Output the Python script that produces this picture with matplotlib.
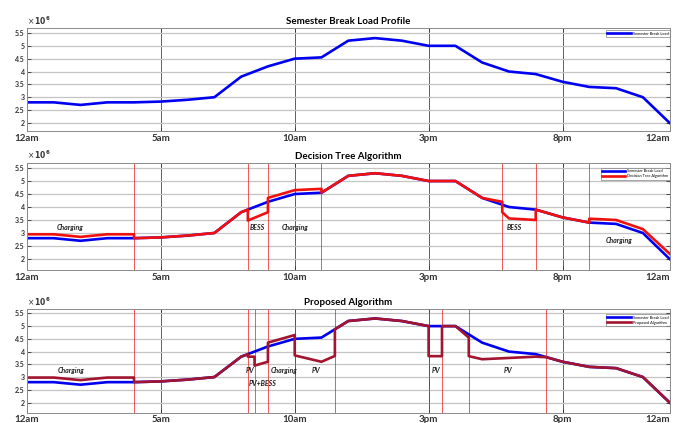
import matplotlib
matplotlib.use('Agg')
import matplotlib.pyplot as plt

plt.rcParams['font.family'] = ['Lato', 'DejaVu Sans']

# hourly load for the semester break (x 1e6)
hours = list(range(25))
load = [2.8, 2.8, 2.7, 2.8, 2.8, 2.83, 2.9, 3.0, 3.8, 4.2, 4.5, 4.55, 5.2,
        5.3, 5.2, 5.0, 5.0, 4.35, 4.0, 3.9, 3.6, 3.4, 3.35, 3.0, 2.0]

# decision tree schedule (repeated hours are vertical steps)
dt_hours = [0, 1, 2, 3, 4, 4, 5, 6, 7, 8, 8.25, 8.25, 9, 9, 10, 11, 11, 12,
            13, 14, 15, 16, 17, 17.75, 17.75, 18, 19, 19, 20, 21, 21, 22, 23, 24]
dt_load = [2.95, 2.95, 2.85, 2.95, 2.95, 2.8, 2.83, 2.9, 3.0, 3.8, 3.9, 3.48,
           3.8, 4.35, 4.65, 4.7, 4.55, 5.2, 5.3, 5.2, 5.0, 5.0, 4.35, 4.2, 3.8,
           3.56, 3.5, 3.9, 3.6, 3.4, 3.55, 3.5, 3.15, 2.2]
dt_bounds = [4, 8.25, 9, 11, 17.75, 19, 21]
dt_end = [2.2, 2.8]
dt_labels = [('Charging', 1.6, 3.2), ('BESS', 8.6, 3.2), ('Charging', 10.0, 3.2),
             ('BESS', 18.2, 3.2), ('Charging', 22.1, 2.7)]

# proposed algorithm schedule
pa_hours = [0, 1, 2, 3, 4, 4, 5, 6, 7, 8, 8.25, 8.25, 8.5, 8.5, 9, 9, 10, 10,
            11, 11.5, 11.5, 12, 13, 14, 15, 15, 15.5, 15.5, 16, 16.5, 16.5, 17,
            18, 19, 19.4, 20, 21, 22, 23, 24]
pa_load = [2.98, 2.98, 2.88, 2.98, 2.98, 2.8, 2.83, 2.9, 3.0, 3.8, 3.9, 3.8,
           3.8, 3.45, 3.6, 4.35, 4.65, 3.85, 3.6, 3.83, 4.875, 5.2, 5.3, 5.2,
           5.0, 3.82, 3.82, 5.0, 5.0, 4.55, 3.82, 3.7, 3.75, 3.8, 3.78, 3.6,
           3.4, 3.35, 3.0, 2.0]
pa_bounds = [4, 8.25, 8.5, 9, 10, 11.5, 15, 15.5, 16.5, 19.4]
pa_end = [2.13, 2.84]
pa_labels = [('Charging', 1.65, 3.26), ('PV', 8.33, 3.26), ('PV+BESS', 8.8, 2.74),
             ('Charging', 9.6, 3.26), ('PV', 10.8, 3.26), ('PV', 15.26, 3.26),
             ('PV', 17.95, 3.26)]

tick_hours = [0, 5, 10, 15, 20, 24]
tick_names = ['12am', '5am', '10am', '3pm', '8pm', '12am']
y_ticks = [2, 2.5, 3, 3.5, 4, 4.5, 5, 5.5]
y_names = ['2', '2.5', '3', '3.5', '4', '4.5', '5', '5.5']

BLUE = '#0000f0'
RED = '#f01010'
DARK_RED = '#a2142f'

fig = plt.figure(figsize=(6.73, 4.23), dpi=100)


def style_axes(ax, title, ylim):
    ax.set_xlim(0, 24)
    ax.set_ylim(*ylim)
    ax.set_xticks(tick_hours)
    ax.set_xticklabels(tick_names, fontsize=7, fontweight='bold')
    # keep the last label inside the figure
    ax.get_xticklabels()[-1].set_horizontalalignment('right')
    ax.set_yticks(y_ticks)
    ax.set_yticklabels(y_names, fontsize=5, fontweight='bold')
    ax.tick_params(axis='both', direction='in', length=3, width=0.6,
                   top=True, right=True, pad=1.5, colors='#333333')
    ax.tick_params(axis='x', pad=2)
    ax.grid(axis='y', color='#c4c4c4', linewidth=0.9)
    ax.grid(axis='x', color='#606060', linewidth=0.7)
    ax.set_axisbelow(True)
    for s in ax.spines.values():
        s.set_color('#8a8a8a')
        s.set_linewidth(0.7)
    ax.set_title(title, fontsize=7, fontweight='bold', pad=3)
    ax.text(0, 1.015, r'$\times\,\mathbf{10^{6}}$', transform=ax.transAxes,
            fontsize=5.5, color='#333333', ha='left', va='bottom')


def add_legend(ax, yoff):
    leg = ax.legend(loc='upper right', bbox_to_anchor=(1.0, 1.0 - yoff),
                    fontsize=2.8, handlelength=6, handletextpad=0.6,
                    borderpad=0.3, labelspacing=0.25, frameon=True,
                    fancybox=False, borderaxespad=0)
    leg.get_frame().set_edgecolor('#666666')
    leg.get_frame().set_linewidth(0.5)


# top: load profile
ax1 = fig.add_axes([0.040, 0.690, 0.955, 0.243])
ax1.plot(hours, load, color=BLUE, lw=1.9, label='Semester Break Load')
style_axes(ax1, 'Semester Break Load Profile', (1.68, 5.68))
add_legend(ax1, 0.02)

# middle: decision tree
ax2 = fig.add_axes([0.040, 0.362, 0.955, 0.253])
for b in dt_bounds:
    ax2.axvline(b, color=RED, lw=0.7, alpha=0.7)
ax2.vlines(24, dt_end[0], dt_end[1], color=RED, lw=0.8)
ax2.plot(hours, load, color=BLUE, lw=1.9, label='Semester Break Load')
ax2.plot(dt_hours, dt_load, color=RED, lw=1.9, label='Decision Tree Algorithm')
for txt, x, y in dt_labels:
    ax2.text(x, y, txt, fontsize=5, fontweight='bold', style='italic',
             ha='center', va='center', color='#222222')
style_axes(ax2, 'Decision Tree Algorithm', (1.58, 5.7))
add_legend(ax2, 0.05)

# bottom: proposed algorithm
ax3 = fig.add_axes([0.040, 0.0243, 0.955, 0.2445])
for b in pa_bounds:
    ax3.axvline(b, color=RED, lw=0.7, alpha=0.7)
ax3.vlines(24, pa_end[0], pa_end[1], color=RED, lw=0.8)
ax3.plot(hours, load, color=BLUE, lw=1.9, label='Semester Break Load')
ax3.plot(pa_hours, pa_load, color=DARK_RED, lw=1.9, label='Proposed Algorithm')
for txt, x, y in pa_labels:
    ax3.text(x, y, txt, fontsize=5, fontweight='bold', style='italic',
             ha='center', va='center', color='#222222')
style_axes(ax3, 'Proposed Algorithm', (1.6, 5.66))
add_legend(ax3, 0.05)

fig.savefig('out.png', dpi=100)
